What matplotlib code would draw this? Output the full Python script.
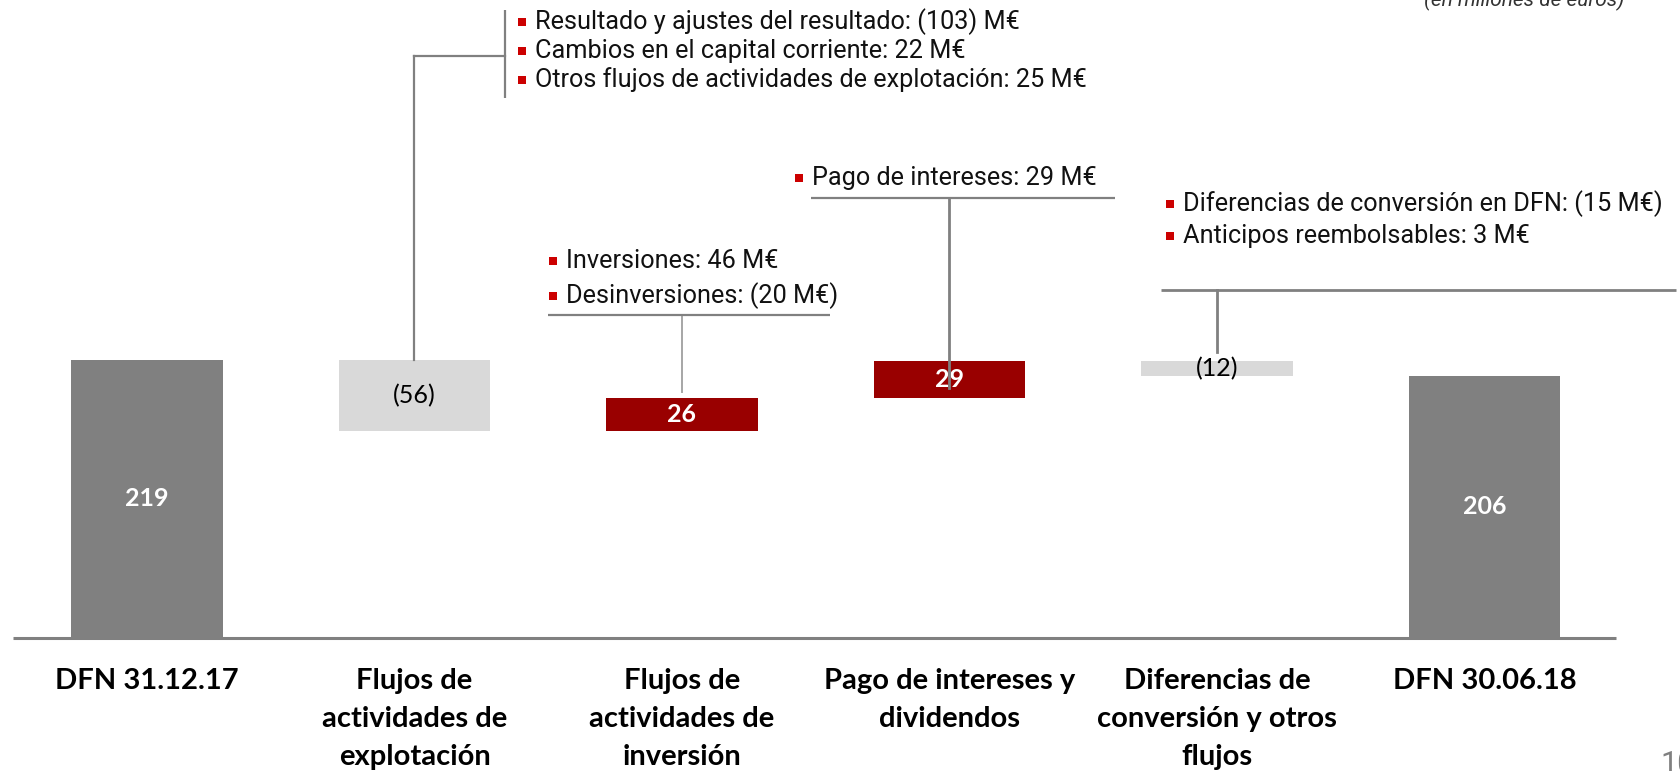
import matplotlib
matplotlib.use("Agg")
import matplotlib.pyplot as plt

# datos (millones de euros)
categorias = ["DFN 31.12.17", "Flujos de\nactividades de\nexplotación", "Flujos de\nactividades de\ninversión",
              "Pago de intereses y\ndividendos", "Diferencias de\nconversión y otros\nflujos", "DFN 30.06.18"]
valores = [219, -56, 26, 29, -12, 206]
etiquetas = ["219", "(56)", "26", "29", "(12)", "206"]
tipo = ["total", "baja", "sube", "sube", "baja", "total"]

notas_explotacion = ["Resultado y ajustes del resultado: (103) M€", "Cambios en el capital corriente: 22 M€",
                     "Otros flujos de actividades de explotación: 25 M€"]
notas_inversion = ["Inversiones: 46 M€", "Desinversiones: (20 M€)"]
notas_intereses = ["Pago de intereses: 29 M€"]
notas_conversion = ["Diferencias de conversión en DFN: (15 M€)", "Anticipos reembolsables: 3 M€"]

colores = {"total": "#808080", "baja": "#d9d9d9", "sube": "#990000"}
gris_linea = "#808080"
fuente_cat = "Lato"
fuente_nota = ["Roboto", "DejaVu Sans"]

W, H = 1681, 771
fig = plt.figure(figsize=(W / 100, H / 100), dpi=100)
ax = fig.add_axes([0, 0, 1, 1])
# escala: base en y=637.7 px, 1.269 px por unidad; barras cada 267.5 px desde x=147
ax.set_xlim(-147 / 267.5, (W - 147) / 267.5)
ax.set_ylim(-(H - 637.7) / 1.269, 637.7 / 1.269)
ax.axis("off")

def px(x, y):
    # pixeles (origen arriba a la izquierda) -> datos
    return (x - 147) / 267.5, (637.7 - y) / 1.269

# cascada
bases, altos = [], []
acum = 0
for v, t in zip(valores, tipo):
    if t == "total":
        bases.append(0); altos.append(v); acum = v
    else:
        nuevo = acum + v
        bases.append(min(acum, nuevo)); altos.append(abs(v)); acum = nuevo
xs = list(range(len(valores)))
ax.bar(xs, altos, bottom=bases, width=0.568, color=[colores[t] for t in tipo], zorder=2)
for i in xs:
    blanco = tipo[i] != "baja"
    ax.text(i, bases[i] + altos[i] / 2, etiquetas[i], ha="center", va="center",
            color="white" if blanco else "black", fontweight="bold" if blanco else "normal",
            fontsize=18, family=fuente_cat, zorder=4)
ax.plot([-0.5, 5.49], [0, 0], color=gris_linea, lw=2.2, zorder=3, solid_capstyle="butt")

for i, c in enumerate(categorias):
    ax.text(i, px(0, 668)[1], c, ha="center", va="top", fontsize=21, fontweight="bold",
            family=fuente_cat, linespacing=1.58)

# conectores
def linea(x0, y0, x1, y1, lw=1.6, color=gris_linea):
    a = px(x0, y0); b = px(x1, y1)
    ax.plot([a[0], b[0]], [a[1], b[1]], color=color, lw=lw, zorder=3, solid_capstyle="butt")

tope1 = bases[1] + altos[1]
x1 = xs[1]; xb = px(505, 0)[0]
ax.plot([x1, x1], [tope1, px(0, 56)[1]], color=gris_linea, lw=1.6, zorder=3)
ax.plot([x1, xb], [px(0, 56)[1]] * 2, color=gris_linea, lw=1.6, zorder=3)
linea(505, 10, 505, 98)

ax.plot([xs[2], xs[2]], [px(0, 392)[1], px(0, 315)[1]], color="#a6a6a6", lw=1.4, zorder=3)
linea(548, 315, 830, 315)

ax.plot([xs[3], xs[3]], [px(0, 388)[1], px(0, 198)[1]], color=gris_linea, lw=2, zorder=5)
linea(811, 198, 1115, 198)

ax.plot([xs[4], xs[4]], [px(0, 352)[1], px(0, 290.5)[1]], color=gris_linea, lw=2, zorder=3)
linea(1161, 290.5, 1676, 290.5, lw=2)

def notas(lineas, xb, yb, paso):
    for k, t in enumerate(lineas):
        y = yb + k * paso
        bx, by = px(xb, y)
        ax.plot(bx, by, marker="s", ms=5.5, color="#cc0000", mew=0, zorder=4)
        tx, ty = px(xb + 13, y)
        ax.text(tx, ty, t, ha="left", va="center", fontsize=18.2, family=fuente_nota,
                color="#111111", zorder=4)

notas(notas_explotacion, 522, 22, 29)
notas(notas_inversion, 553, 261, 35)
notas(notas_intereses, 799, 178, 0)
notas(notas_conversion, 1170, 204, 32)

fig.text(1624 / W, 1 - 6 / H, "(en millones de euros)", ha="right", va="baseline",
         fontsize=15, style="italic", family=fuente_nota, color="#333333")
fig.text(1660 / W, 1 - 750 / H, "10", ha="left", va="top", fontsize=22, color="#808080",
         family="Roboto")

fig.savefig("out.png", dpi=100)
